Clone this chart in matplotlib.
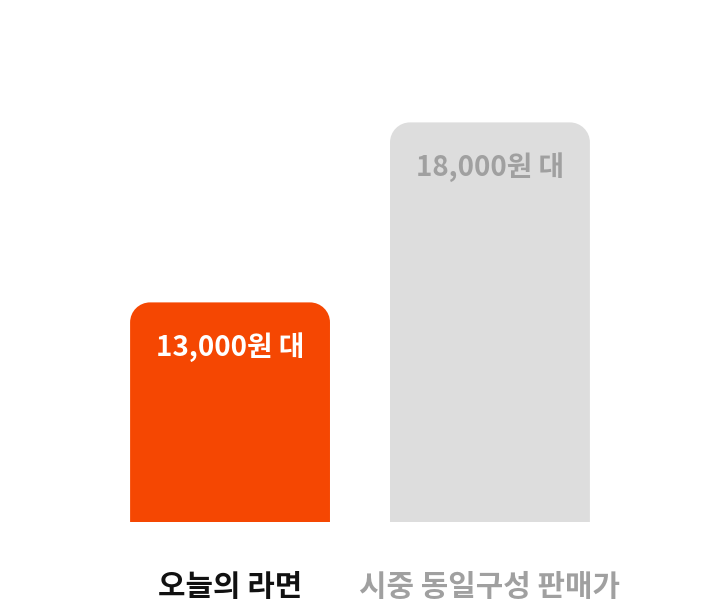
import matplotlib
matplotlib.use('Agg')
import matplotlib.pyplot as plt
from matplotlib.path import Path
from matplotlib.patches import PathPatch
from matplotlib.transforms import IdentityTransform

plt.rcParams['font.family'] = ['Noto Sans CJK KR', 'DejaVu Sans']

categories = ['오늘의 라면', '시중 동일구성 판매가']
prices = [13000, 18000]
value_labels = ['13,000원 대', '18,000원 대']
bar_colors = ['#F54702', '#DDDDDD']
value_colors = ['#FFFFFF', '#A0A0A0']
cat_colors = ['#111111', '#A0A0A0']

fig = plt.figure(figsize=(7.2, 6), dpi=100)
ax = fig.add_axes([0, 0.13, 1, 0.87])
ax.set_xlim(-0.885, 1.885)
ax.set_ylim(6900, 21400)
ax.axis('off')

bars = ax.bar(range(len(prices)), prices, width=0.769, color=bar_colors)
fig.canvas.draw()

def rounded_top(rect, r=20):
    (x0, y0), (x1, y1) = ax.transData.transform(
        [(rect.get_x(), ax.get_ylim()[0]),
         (rect.get_x() + rect.get_width(), rect.get_height())])
    k = 0.5523 * r
    verts = [(x0, y0), (x0, y1 - r),
             (x0, y1 - r + k), (x0 + r - k, y1), (x0 + r, y1),
             (x1 - r, y1),
             (x1 - r + k, y1), (x1, y1 - r + k), (x1, y1 - r),
             (x1, y0), (x0, y0)]
    codes = [Path.MOVETO, Path.LINETO,
             Path.CURVE4, Path.CURVE4, Path.CURVE4,
             Path.LINETO,
             Path.CURVE4, Path.CURVE4, Path.CURVE4,
             Path.LINETO, Path.CLOSEPOLY]
    return Path(verts, codes)

for rect, c in zip(bars, bar_colors):
    rect.set_visible(False)
    ax.add_patch(PathPatch(rounded_top(rect), facecolor=c, edgecolor='none',
                           transform=IdentityTransform(), clip_on=False,
                           zorder=1))

ax.set_xlim(-0.885, 1.885)
ax.set_ylim(6900, 21400)

for i, (v, lab) in enumerate(zip(prices, value_labels)):
    ax.annotate(lab, xy=(i, v), xytext=(0, -32.4), textcoords='offset points',
                ha='center', va='center', fontsize=20, fontweight='bold',
                color=value_colors[i], zorder=3)
    ax.annotate(categories[i], xy=(i, ax.get_ylim()[0]), xytext=(0, -47),
                textcoords='offset points', ha='center', va='center',
                fontsize=21.5, fontweight='bold', color=cat_colors[i],
                annotation_clip=False)

fig.savefig('out.png', dpi=100, facecolor='white')
